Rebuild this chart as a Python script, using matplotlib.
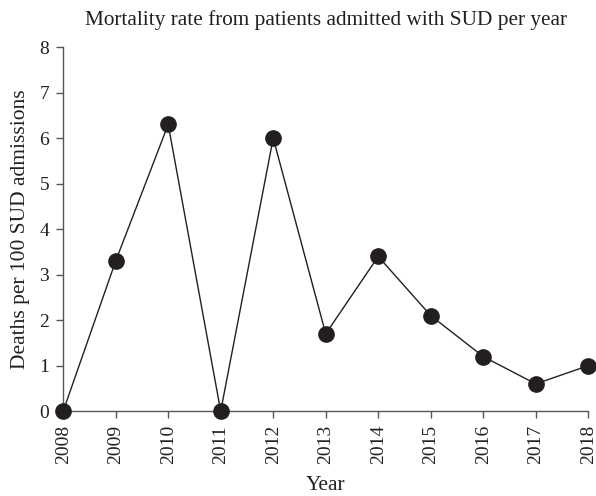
import matplotlib
matplotlib.use("Agg")
import matplotlib.pyplot as plt

years = [2008, 2009, 2010, 2011, 2012, 2013, 2014, 2015, 2016, 2017, 2018]
rates = [0, 3.3, 6.3, 0, 6.0, 1.7, 3.4, 2.1, 1.2, 0.6, 1.0]
yticks = [0, 1, 2, 3, 4, 5, 6, 7, 8]

plt.rcParams['font.family'] = ['Liberation Serif', 'DejaVu Serif']
c = '#231f20'

fig = plt.figure(figsize=(5.96, 4.96), dpi=100)
ax = fig.add_axes([0.106, 0.171, 0.881, 0.734])
ax.plot(years, rates, color=c, lw=1.0, marker='o', ms=11, mfc=c, mec=c, clip_on=False, zorder=3)
ax.set_xlim(2008, 2018)
ax.set_ylim(0, 8)
ax.set_xticks(years)
ax.set_xticklabels([str(y) for y in years], rotation=90, fontsize=14, color=c)
ax.set_yticks(yticks)
ax.set_yticklabels([str(v) for v in yticks], fontsize=14, color=c)
for s in ['top', 'right']:
    ax.spines[s].set_visible(False)
for s in ['left', 'bottom']:
    ax.spines[s].set_color('#555555')
    ax.spines[s].set_linewidth(1.0)
ax.tick_params(direction='out', length=5, width=1.0, color='#555555', pad=5)
ax.set_xlabel('Year', fontsize=15.5, color=c, labelpad=8)
ax.set_ylabel('Deaths per 100 SUD admissions', fontsize=15.5, color=c, labelpad=7)
ax.set_title('Mortality rate from patients admitted with SUD per year', fontsize=15.3, color=c, pad=16)
fig.savefig('out.png', dpi=100)
